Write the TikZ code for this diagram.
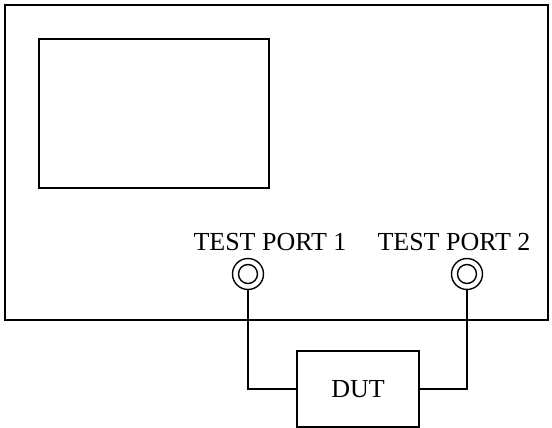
\documentclass[tikz,border=0pt]{standalone}
\usepackage{fontspec}
\setmainfont{Liberation Serif}
\usepackage{tikz}
\usetikzlibrary{positioning,calc}

\begin{document}
\begin{tikzpicture}[x=1pt,y=-1pt,
  frame/.style={draw,line width=2.2pt},
  screenbox/.style={draw,line width=1.6pt},
  portring/.style={draw,circle,line width=1.4pt,inner sep=0pt},
  dutbox/.style={draw,line width=1.1pt,minimum width=122pt,minimum height=76pt,
                 font=\fontsize{26}{30}\selectfont},
  portlabel/.style={anchor=base,font=\fontsize{26}{30}\selectfont},
  wire/.style={line width=1.1pt},
]
\useasboundingbox (0,0) rectangle (552,428);
% analyzer front panel and display
\draw[frame] (5,5) rectangle (548,320);
\draw[screenbox] (39,39) rectangle (269,188);
% test ports
\node[portring,minimum size=31pt] (port1) at (248,274) {};
\node[portring,minimum size=19pt] (port1in) at (port1.center) {};
\node[portring,minimum size=31pt] (port2) at (467,274) {};
\node[portring,minimum size=19pt] (port2in) at (port2.center) {};
\node[portlabel] (lab1) at (270,250) {TEST PORT 1};
\node[portlabel] (lab2) at (454,250) {TEST PORT 2};
% device under test
\node[dutbox] (dut) at (358,389) {DUT};
\draw[wire] (port1.south) |- (dut.west);
\draw[wire] (port2.south) |- (dut.east);
\end{tikzpicture}
\end{document}
